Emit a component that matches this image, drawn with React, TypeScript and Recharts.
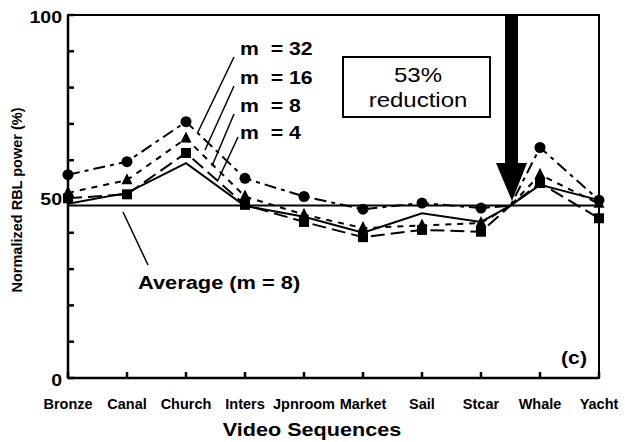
import { LineChart, Line, XAxis, YAxis, ReferenceLine, ReferenceArea } from 'recharts'

const categories = ['Bronze', 'Canal', 'Church', 'Inters', 'Jpnroom', 'Market', 'Sail', 'Stcar', 'Whale', 'Yacht']
const m32 = [56, 59.6, 70.6, 55, 50, 46.5, 48.2, 46.8, 63.5, 49]
const m16 = [51, 54.5, 66, 50, 45, 41.3, 42, 42.7, 56, 48]
const m8 = [49.5, 50.6, 62, 47.7, 43, 38.8, 40.8, 40.3, 53.7, 44]
const m4 = [48, 51, 59.2, 47.4, 44.4, 40, 45.4, 43, 53.2, 49]
// all curves meet on the average line half way between Stcar and Whale
const crossAt = 7.5
const crossValue = 47.5
const average = 47.5
const yTicks = [0, 10, 20, 30, 40, 50, 60, 70, 80, 90, 100]
const yLabels = [0, 50, 100]

const rows: any[] = []
categories.forEach((name, i) => {
  rows.push({ x: i, name, m32: m32[i], m16: m16[i], m8: m8[i], m4: m4[i] })
  if (i === 7) rows.push({ x: crossAt, cross: true, m32: crossValue, m16: crossValue, m8: crossValue, m4: crossValue })
})

const font = '"Liberation Sans", Arial, sans-serif'

// the original figure is stretched sideways, so text is widened a bit
function T({ x, y, size, sx = 1.18, bold = true, anchor = 'start', children }: any) {
  return (
    <text
      transform={`translate(${x},${y}) scale(${sx},1)`}
      textAnchor={anchor}
      fontSize={size}
      fontFamily={font}
      fontWeight={bold ? 'bold' : 'normal'}
      fill="#000"
      xmlSpace="preserve"
      style={{ whiteSpace: 'pre' }}
    >
      {children}
    </text>
  )
}

const XTick = (p: any) => (
  <T x={p.x} y={p.y + 11} size={14.5} sx={1} anchor="middle">{categories[p.payload.value]}</T>
)
const YTick = (p: any) =>
  yLabels.includes(p.payload.value) ? (
    <T x={p.x} y={p.y + 8} size={17} sx={1.15} anchor="end">{String(p.payload.value)}</T>
  ) : (
    <g />
  )

const CircleDot = (p: any) => {
  if (p.payload?.cross) return <g key={p.key} />
  return <circle key={p.key} cx={p.cx} cy={p.cy} r={5.5} fill="#000" />
}
const TriDot = (p: any) => {
  if (p.payload?.cross) return <g key={p.key} />
  const { cx, cy } = p
  return <polygon key={p.key} points={`${cx},${cy - 7} ${cx - 5.5},${cy + 4} ${cx + 5.5},${cy + 4}`} fill="#000" />
}
const SquareDot = (p: any) => {
  if (p.payload?.cross) return <g key={p.key} />
  return <rect key={p.key} x={p.cx - 5} y={p.cy - 5} width={10} height={10} fill="#000" />
}

export default function App() {
  return (
    <div style={{ position: 'absolute', left: 0, top: 0, width: 625, height: 442, background: '#fff' }}>
      <LineChart width={625} height={442} data={rows} margin={{ top: 15, right: 26, left: 8, bottom: 0 }}>
        <XAxis
          dataKey="x"
          type="number"
          domain={[0, 9]}
          ticks={categories.map((_, i) => i)}
          interval={0}
          height={64}
          stroke="#000"
          strokeWidth={2.5}
          tickSize={-6}
          tickMargin={26}
          tick={XTick}
        />
        <YAxis
          type="number"
          domain={[0, 100]}
          ticks={yTicks}
          width={60}
          stroke="#000"
          strokeWidth={2.5}
          tickSize={-6}
          tickMargin={12}
          tick={YTick}
        />
        <ReferenceArea x1={0} x2={9} y1={0} y2={100} fill="none" stroke="#000" strokeWidth={2} />
        <ReferenceLine y={average} stroke="#000" strokeWidth={2} />
        <Line dataKey="m4" stroke="#000" strokeWidth={2} dot={false} isAnimationActive={false} />
        <Line dataKey="m8" stroke="#000" strokeWidth={2} strokeDasharray="14 6" dot={SquareDot} isAnimationActive={false} />
        <Line dataKey="m16" stroke="#000" strokeWidth={2} strokeDasharray="6 6" dot={TriDot} isAnimationActive={false} />
        <Line dataKey="m32" stroke="#000" strokeWidth={2} strokeDasharray="12 5 4 5" dot={CircleDot} isAnimationActive={false} />
      </LineChart>
      <svg width={625} height={442} style={{ position: 'absolute', left: 0, top: 0, pointerEvents: 'none' }}>
        <text transform="translate(22,200) rotate(-90)" textAnchor="middle" fontSize={14.5} fontFamily={font} fontWeight="bold" fill="#000">
          Normalized RBL power (%)
        </text>
        <T x={312} y={436} size={18} sx={1.2} anchor="middle">Video Sequences</T>

        <T x={240} y={55} size={18}>m  = 32</T>
        <T x={240} y={84} size={18}>m  = 16</T>
        <T x={240} y={112} size={18}>m  = 8</T>
        <T x={240} y={139} size={18}>m  = 4</T>
        <g stroke="#000" strokeWidth={1.5}>
          <line x1={234} y1={57} x2={198} y2={132} />
          <line x1={234} y1={86} x2={205} y2={150} />
          <line x1={234} y1={114} x2={212} y2={166} />
          <line x1={238} y1={137} x2={218} y2={180} />
          <line x1={123} y1={212} x2={148} y2={265} />
        </g>
        <T x={138} y={289} size={18.5}>Average (m = 8)</T>

        <rect x={343} y={57} width={147} height={60} fill="#fff" stroke="#000" strokeWidth={2} />
        <T x={418} y={82} size={20} sx={1.2} bold={false} anchor="middle">53%</T>
        <T x={418} y={107} size={20} sx={1.2} bold={false} anchor="middle">reduction</T>

        <rect x={505} y={15} width={13} height={149} fill="#000" />
        <polygon points="496,163 527,163 512,201" fill="#000" />

        <T x={574} y={364} size={18} anchor="middle">(c)</T>
      </svg>
    </div>
  )
}
